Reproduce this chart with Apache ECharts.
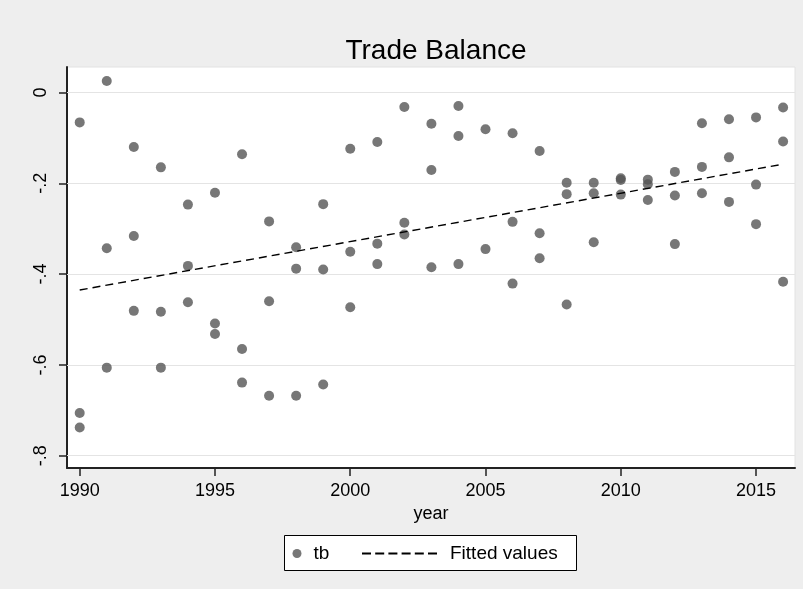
<!DOCTYPE html>
<html>
<head>
<meta charset="utf-8">
<script src="https://cdn.jsdelivr.net/npm/echarts@6/dist/echarts.min.js"></script>
<style>
  html, body { margin: 0; padding: 0; background: #eeeeee; }
  #chart { width: 803px; height: 589px; }
</style>
</head>
<body>
<div id="chart"></div>
<script>
// Trade balance observations (year, tb)
const tbYears = [
  1990, 1990, 1990, 1991, 1991, 1991, 1992, 1992, 1992, 1993, 1993, 1993,
  1994, 1994, 1994, 1995, 1995, 1995, 1996, 1996, 1996, 1997, 1997, 1997,
  1998, 1998, 1998, 1999, 1999, 1999, 2000, 2000, 2000, 2001, 2001, 2001,
  2002, 2002, 2002, 2003, 2003, 2003, 2004, 2004, 2004, 2005, 2005,
  2006, 2006, 2006, 2007, 2007, 2007, 2008, 2008, 2008, 2009, 2009, 2009,
  2010, 2010, 2010, 2011, 2011, 2011, 2012, 2012, 2012, 2013, 2013, 2013,
  2014, 2014, 2014, 2015, 2015, 2015, 2016, 2016, 2016
];
const tbValues = [
  -0.066, -0.706, -0.738, 0.025, -0.343, -0.606, -0.120, -0.316, -0.481, -0.165, -0.483, -0.606,
  -0.247, -0.382, -0.462, -0.221, -0.509, -0.532, -0.136, -0.565, -0.639, -0.284, -0.460, -0.668,
  -0.341, -0.388, -0.668, -0.246, -0.390, -0.643, -0.124, -0.351, -0.473, -0.109, -0.333, -0.378,
  -0.032, -0.287, -0.313, -0.069, -0.171, -0.385, -0.030, -0.096, -0.378, -0.081, -0.345,
  -0.090, -0.285, -0.421, -0.129, -0.310, -0.365, -0.199, -0.224, -0.467, -0.199, -0.222, -0.330,
  -0.189, -0.193, -0.225, -0.192, -0.202, -0.237, -0.175, -0.227, -0.334, -0.068, -0.164, -0.222,
  -0.059, -0.143, -0.241, -0.055, -0.203, -0.290, -0.033, -0.108, -0.417
];

// Linear fit (fitted values at the ends of the sample)
const fitYears = [1990, 2016];
const fitValues = [-0.435, -0.158];

// Axis ticks
const xTicks = [1990, 1995, 2000, 2005, 2010, 2015];
const yTicks = [0, -0.2, -0.4, -0.6, -0.8];
const yTickLabels = ['0', '-.2', '-.4', '-.6', '-.8'];

const FONT = 'Liberation Sans, Arial, sans-serif';

const scatterData = tbYears.map((y, i) => [y, tbValues[i]]);
const fitData = fitYears.map((y, i) => [y, fitValues[i]]);
const gridLineData = yTicks.map(v => ({ yAxis: v }));

// Six dashes for the legend's line key
const dashIcon = 'path://M0,0h9v2h-9z M13.2,0h9v2h-9z M26.4,0h9v2h-9z M39.6,0h9v2h-9z M52.8,0h9v2h-9z M66,0h9v2h-9z';

const chart = echarts.init(document.getElementById('chart'), null, { renderer: 'canvas' });

chart.setOption({
  backgroundColor: '#eeeeee',
  animation: false,
  textStyle: { fontFamily: FONT },
  title: {
    text: 'Trade Balance',
    left: 431,
    textAlign: 'center',
    top: 32,
    textStyle: { fontFamily: FONT, fontSize: 28, fontWeight: 'normal', color: '#000' }
  },
  grid: {
    left: 67, right: 8, top: 67, bottom: 121,
    show: true,
    backgroundColor: '#ffffff',
    borderColor: '#e2e2e2',
    borderWidth: 1
  },
  graphic: [{
    type: 'rect',
    shape: { x: 284.5, y: 535.5, width: 292, height: 35 },
    style: { fill: '#ffffff', stroke: '#000000', lineWidth: 1 },
    z: 0
  }],
  legend: [{
    data: ['tb'],
    left: 292.5,
    top: 544,
    padding: 0,
    itemWidth: 9,
    itemHeight: 9,
    icon: 'circle',
    textStyle: { fontFamily: FONT, fontSize: 19, color: '#000', padding: [0, 0, 0, 7] },
    z: 5
  }, {
    data: ['Fitted values'],
    left: 362,
    top: 544,
    padding: 0,
    itemWidth: 75,
    itemHeight: 2,
    icon: dashIcon,
    itemStyle: { color: '#000' },
    textStyle: { fontFamily: FONT, fontSize: 19, color: '#000', padding: [0, 0, 0, 8] },
    z: 5
  }],
  xAxis: {
    type: 'value',
    min: 1989.53,
    max: 2016.44,
    name: 'year',
    nameLocation: 'middle',
    nameGap: 36,
    nameTextStyle: { fontFamily: FONT, fontSize: 18, color: '#000' },
    axisLine: { show: true, onZero: false, lineStyle: { color: '#222', width: 2 } },
    axisTick: { show: true, length: 8, customValues: xTicks, lineStyle: { color: '#222', width: 1.5 } },
    axisLabel: {
      customValues: xTicks,
      margin: 14,
      fontFamily: FONT, fontSize: 18, color: '#000',
      formatter: v => String(v)
    },
    splitLine: { show: false }
  },
  yAxis: {
    type: 'value',
    min: -0.827,
    max: 0.056,
    axisLine: { show: true, onZero: false, lineStyle: { color: '#222', width: 2 } },
    axisTick: { show: true, length: 8, customValues: yTicks, lineStyle: { color: '#222', width: 1.5 } },
    axisLabel: {
      customValues: yTicks,
      rotate: 90,
      margin: 17,
      fontFamily: FONT, fontSize: 18, color: '#000',
      formatter: v => {
        const i = yTicks.findIndex(t => Math.abs(t - v) < 1e-9);
        return i >= 0 ? yTickLabels[i] : '';
      }
    },
    splitLine: { show: false }
  },
  series: [{
    name: 'tb',
    type: 'scatter',
    data: scatterData,
    symbol: 'circle',
    symbolSize: 10,
    itemStyle: { color: '#555555' },
    markLine: {
      silent: true,
      symbol: 'none',
      label: { show: false },
      lineStyle: { color: '#e4e4e4', width: 1, type: 'solid' },
      data: gridLineData,
      z: 1
    },
    z: 3
  }, {
    name: 'Fitted values',
    type: 'line',
    data: fitData,
    symbol: 'none',
    lineStyle: { color: '#000', width: 1.4, type: [8, 5] },
    itemStyle: { color: '#000' },
    z: 4
  }]
});
</script>
</body>
</html>
